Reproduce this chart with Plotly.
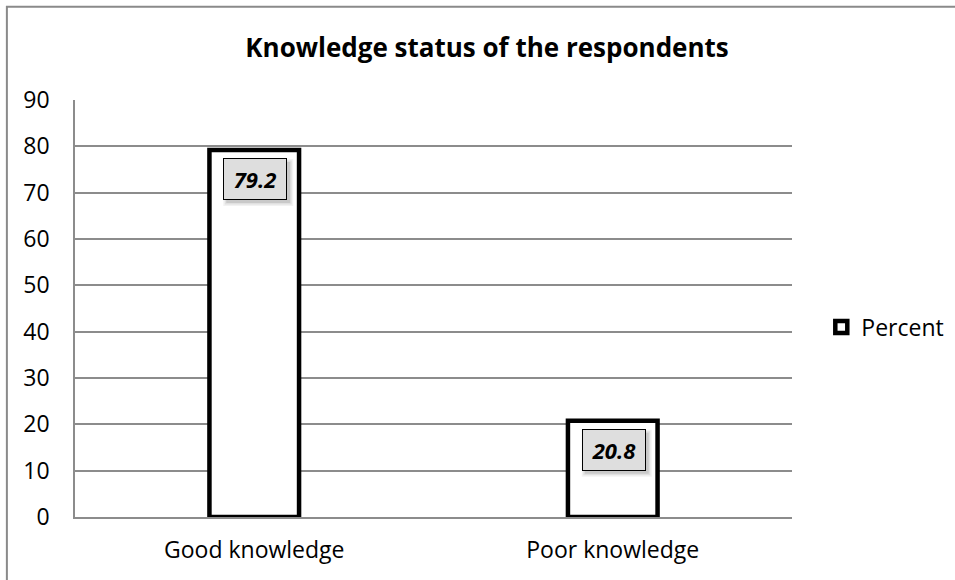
import plotly.graph_objects as go

categories = ["Good knowledge", "Poor knowledge"]
percent = [79.2, 20.8]
y_ticks = [0, 10, 20, 30, 40, 50, 60, 70, 80, 90]

FONT = "Open Sans"
GRID = "#8c8c8c"

fig = go.Figure()
fig.add_trace(go.Bar(
    x=categories,
    y=percent,
    name="Percent",
    marker=dict(color="white", line=dict(color="black", width=4.5)),
    width=0.25,
))

# value callouts: grey boxed labels just inside the top of each bar,
# each sitting on a soft drop shadow (a few stacked translucent rects)
BOX_W, BOX_H = 64, 41
for cat, val in zip(categories, percent):
    for grow, alpha in [(3, 0.05), (1.5, 0.07), (0, 0.10)]:
        fig.add_shape(
            type="rect", xref="x", yref="y",
            xsizemode="pixel", ysizemode="pixel", xanchor=cat, yanchor=val,
            x0=-BOX_W / 2 + 4 - grow, x1=BOX_W / 2 + 4 + grow,
            y0=-8 - BOX_H - 4 - grow, y1=-8 - 4 + grow,
            fillcolor=f"rgba(0,0,0,{alpha})", line=dict(width=0), layer="above",
        )
    fig.add_annotation(
        x=cat, y=val, xref="x", yref="y",
        text=f"{val:.1f}", showarrow=False,
        yanchor="top", yshift=-8, xshift=1,
        font=dict(family=FONT, size=22, color="black", weight="bold", style="italic"),
        bgcolor="#dedede", bordercolor="black", borderwidth=1, borderpad=5,
        width=BOX_W - 12,
    )

# outer chart frame (right and bottom edges run past the canvas)
fig.add_shape(type="rect", xref="paper", yref="paper",
              x0=-0.095, x1=1.3, y0=-0.25, y1=1.2235,
              line=dict(color="#8a8a8a", width=2), fillcolor="rgba(0,0,0,0)",
              layer="below")

fig.update_layout(
    width=955, height=580,
    margin=dict(l=75, r=163, t=100, b=63, autoexpand=False),
    paper_bgcolor="white", plot_bgcolor="white",
    title=dict(text="<b>Knowledge status of the respondents</b>",
               xref="container", x=0.51, xanchor="center",
               yref="container", y=0.917, yanchor="middle",
               font=dict(family=FONT, size=26, color="black")),
    showlegend=True,
    legend=dict(xref="container", x=0.86, yref="container", y=0.436,
                xanchor="left", yanchor="middle",
                font=dict(family=FONT, size=23, color="black"),
                itemwidth=30, bgcolor="rgba(0,0,0,0)"),
    font=dict(family=FONT, size=23, color="black"),
)

fig.update_xaxes(
    showgrid=False, showline=True, linecolor=GRID, linewidth=1.5,
    ticks="", tickfont=dict(family=FONT, size=23, color="black"),
    ticklabelstandoff=12,
)
fig.update_yaxes(
    range=[0, 90], tickvals=y_ticks, showgrid=True, gridcolor=GRID, gridwidth=1.5,
    showline=True, linecolor=GRID, linewidth=1.5, zeroline=False,
    ticks="", tickfont=dict(family=FONT, size=23, color="black"),
    ticklabelstandoff=19,
)

fig.write_html("out.html")
